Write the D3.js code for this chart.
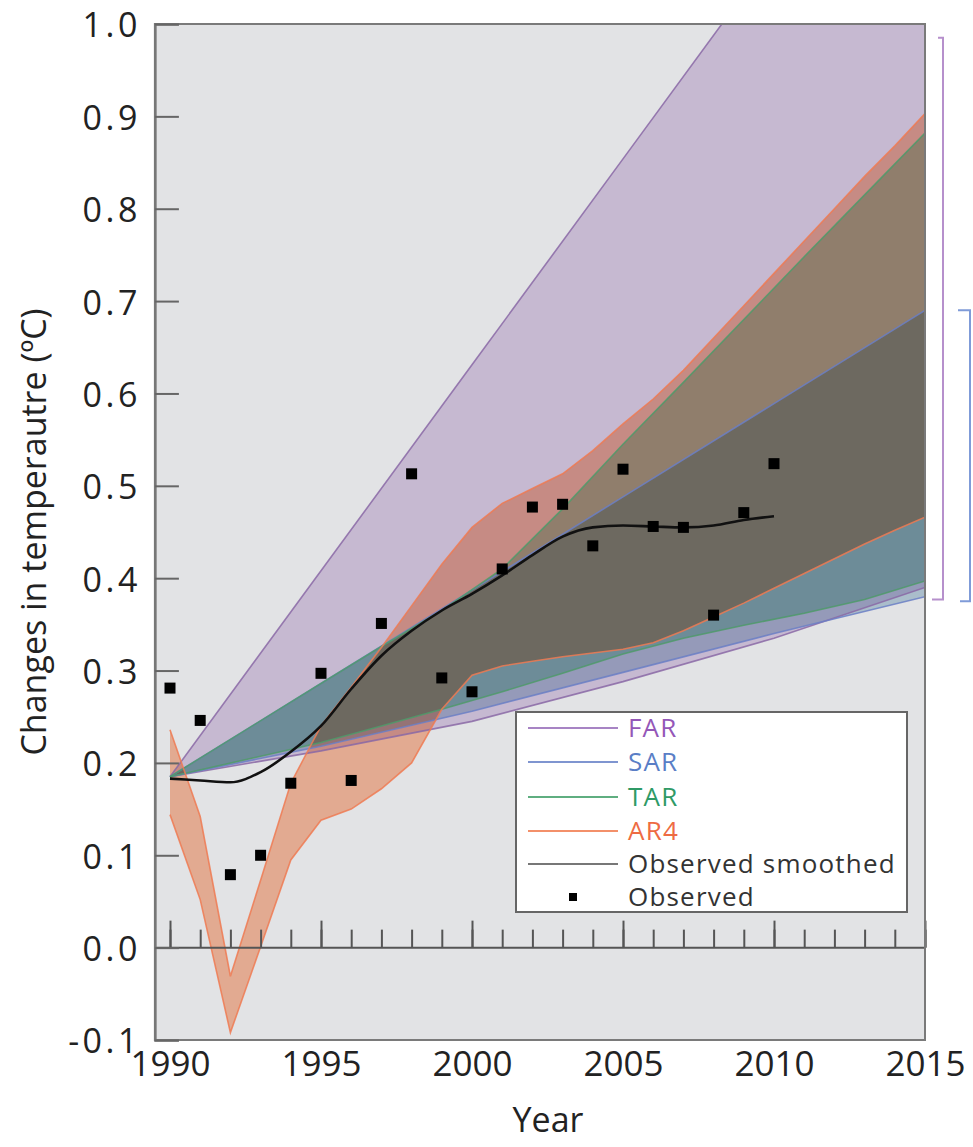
<!DOCTYPE html>
<html><head><meta charset="utf-8">
<script src="https://cdn.jsdelivr.net/npm/d3@7"></script>
<style>
html,body{margin:0;padding:0;background:#fff;}
svg{display:block;font-family:"Open Sans",sans-serif;}
</style></head><body>
<svg id="chart" width="973" height="1147"></svg>
<script>
// Observed annual temperature changes (°C)
const obsYears = d3.range(1990, 2011);
const obsValues = [0.281,0.246,0.079,0.100,0.178,0.297,0.181,0.351,0.513,0.292,0.277,
                   0.410,0.477,0.480,0.435,0.518,0.456,0.455,0.360,0.471,0.524];
const smoothValues = [0.183,0.181,0.179,0.190,0.212,0.240,0.280,0.316,0.343,0.365,0.383,
                      0.403,0.425,0.445,0.455,0.457,0.456,0.455,0.457,0.463,0.467];

// Projection envelopes (low / high)
const farYears = [1990,1995,2000,2005,2010,2015];
const farLow   = [0.185,0.213,0.245,0.288,0.335,0.390];
const farHigh  = [0.185,0.408,0.631,0.854,1.077,1.300];

const sarYears = [1990,1995,2000,2005,2010,2015];
const sarLow   = [0.185,0.218,0.256,0.298,0.340,0.380];
const sarHigh  = [0.185,0.286,0.387,0.488,0.589,0.690];

const tarYears = [1990,1995,1997,1999,2001,2003,2005,2007,2009,2011,2013,2015];
const tarLow   = [0.185,0.222,0.240,0.258,0.277,0.297,0.318,0.335,0.349,0.362,0.377,0.397];
const tarHigh  = [0.185,0.286,0.326,0.365,0.410,0.475,0.545,0.612,0.680,0.748,0.815,0.882];

const ar4Years = d3.range(1990, 2016);
const ar4Low   = [0.144,0.052,-0.092,0.001,0.095,0.138,0.150,0.172,0.200,0.258,0.295,0.305,0.310,
                  0.315,0.319,0.323,0.330,0.343,0.358,0.373,0.389,0.405,0.421,0.437,0.452,0.466];
const ar4High  = [0.236,0.142,-0.031,0.073,0.178,0.240,0.282,0.325,0.370,0.415,0.455,0.481,0.497,
                  0.513,0.538,0.567,0.594,0.625,0.660,0.695,0.730,0.765,0.800,0.835,0.868,0.903];

// Ranges marked at the right of the plot
const farRange = [0.377, 0.985];
const sarRange = [0.375, 0.690];

const yTicks = [-0.1,0.0,0.1,0.2,0.3,0.4,0.5,0.6,0.7,0.8,0.9,1.0];
const xTickLabels = [1990,1995,2000,2005,2010,2015];
const minorYears = d3.range(1990, 2016);

const legendLabels = ["FAR","SAR","TAR","AR4","Observed smoothed","Observed"];

const svg = d3.select("#chart");
const x = d3.scaleLinear().domain([1990, 2015]).range([170, 925]);
const y = d3.scaleLinear().domain([-0.1, 1.0]).range([1040, 24]);
const pLeft = x(1989.5), pRight = x(2015), pTop = y(1.0), pBottom = y(-0.1);

svg.append("clipPath").attr("id", "plotclip").append("rect")
  .attr("x", pLeft).attr("y", pTop).attr("width", pRight - pLeft).attr("height", pBottom - pTop);

const plot = svg.append("g").attr("clip-path", "url(#plotclip)");

// plot background (inside the clipped group so the bands multiply over it)
plot.append("rect").attr("x", pLeft).attr("y", pTop)
  .attr("width", pRight - pLeft).attr("height", pBottom - pTop)
  .attr("fill", "#e2e3e5");

const bands = [
  {years: farYears, low: farLow, high: farHigh, fill: "rgb(224,208,233)", stroke: "#8a68a6"},
  {years: sarYears, low: sarLow, high: sarHigh, fill: "rgb(192,213,226)", stroke: "#6b7fc6"},
  {years: tarYears, low: tarLow, high: tarHigh, fill: "rgb(186,232,209)", stroke: "#4f9a6a"},
  {years: ar4Years, low: ar4Low, high: ar4High, fill: "rgb(255,191,161)", stroke: "#ee7a52"}
];

bands.forEach(b => {
  const rows = b.years.map((yr, i) => ({yr, lo: b.low[i], hi: b.high[i]}));
  const area = d3.area().x(d => x(d.yr)).y0(d => y(d.lo)).y1(d => y(d.hi));
  plot.append("path").datum(rows).attr("d", area)
    .attr("fill", b.fill).style("mix-blend-mode", "multiply");
});
bands.forEach(b => {
  const rows = b.years.map((yr, i) => ({yr, lo: b.low[i], hi: b.high[i]}));
  ["lo", "hi"].forEach(k => {
    plot.append("path").datum(rows)
      .attr("d", d3.line().x(d => x(d.yr)).y(d => y(d[k])))
      .attr("fill", "none").attr("stroke", b.stroke)
      .attr("stroke-width", 1.6).attr("stroke-opacity", 0.85);
  });
});

// zero line with year ticks
plot.append("line").attr("x1", pLeft).attr("x2", pRight)
  .attr("y1", y(0)).attr("y2", y(0)).attr("stroke", "#555").attr("stroke-width", 2);

const minorAxis = d3.axisTop(x).tickValues(minorYears).tickSize(18).tickFormat("");
const majorAxis = d3.axisTop(x).tickValues(xTickLabels).tickSize(27).tickFormat("");
[minorAxis, majorAxis].forEach(ax => {
  const g = svg.append("g").attr("transform", `translate(0,${y(0)})`).call(ax);
  g.select(".domain").remove();
  g.selectAll("line").attr("stroke", "#555").attr("stroke-width", 2);
});

// observed smoothed
plot.append("path").datum(obsYears.map((yr, i) => [yr, smoothValues[i]]))
  .attr("d", d3.line().x(d => x(d[0])).y(d => y(d[1])).curve(d3.curveMonotoneX))
  .attr("fill", "none").attr("stroke", "#111").attr("stroke-width", 2.6);

// observed points
plot.selectAll("rect.obs").data(obsYears.map((yr, i) => [yr, obsValues[i]]))
  .join("rect").attr("class", "obs")
  .attr("x", d => x(d[0]) - 5.5).attr("y", d => y(d[1]) - 5.5)
  .attr("width", 11).attr("height", 11).attr("fill", "#000");

// frame
svg.append("rect").attr("x", pLeft).attr("y", pTop)
  .attr("width", pRight - pLeft).attr("height", pBottom - pTop)
  .attr("fill", "none").attr("stroke", "#7a7a7a").attr("stroke-width", 2);

// y axis
const yAxis = d3.axisLeft(y).tickValues(yTicks).tickSize(-24).tickPadding(14)
  .tickFormat(d => d.toFixed(1));
const yg = svg.append("g").attr("transform", `translate(${pLeft},0)`).call(yAxis);
yg.select(".domain").attr("stroke", "#777").attr("stroke-width", 2.5);
yg.selectAll("line").attr("stroke", "#666").attr("stroke-width", 2);
yg.selectAll("text").attr("font-size", 34).attr("fill", "#222").attr("dy", "0.38em")
  .attr("letter-spacing", 3.5)
  .attr("font-family", "'Open Sans', sans-serif");

// x axis labels
const xAxis = d3.axisBottom(x).tickValues(xTickLabels).tickSize(0).tickPadding(11)
  .tickFormat(d3.format("d"));
const xg = svg.append("g").attr("transform", `translate(0,${pBottom})`).call(xAxis);
xg.select(".domain").remove();
xg.selectAll("text").attr("font-size", 35).attr("fill", "#222")
  .attr("font-family", "'Open Sans', sans-serif");

// axis titles
svg.append("text").attr("x", 548).attr("y", 1132).attr("text-anchor", "middle")
  .attr("font-size", 34).attr("fill", "#222").text("Year");
svg.append("text").attr("transform", "translate(46,532) rotate(-90)")
  .attr("text-anchor", "middle").attr("font-size", 34).attr("fill", "#222")
  .text("Changes in temperautre (ºC)");

// range brackets
function bracket(range, xv, hookTop, hookBottom, color) {
  const p = d3.path();
  p.moveTo(xv - hookTop, y(range[1]));
  p.lineTo(xv, y(range[1]));
  p.lineTo(xv, y(range[0]));
  p.lineTo(xv - hookBottom, y(range[0]));
  svg.append("path").attr("d", p.toString()).attr("fill", "none")
    .attr("stroke", color).attr("stroke-width", 2);
}
bracket(farRange, 943, 5, 11, "#b690cc");
bracket(sarRange, 970, 12, 10, "#7f9bd8");

// legend
const legendColors = ["#a784c4","#7f95d0","#5fae80","#f3906a","#777","#000"];
const legendText = ["#9457b8","#5a7ec6","#2f9a66","#ee6b43","#333","#333"];
const rowY = [728, 762, 797, 831, 864, 897];
const lg = svg.append("g");
lg.append("rect").attr("x", 516).attr("y", 712).attr("width", 391).attr("height", 200)
  .attr("fill", "#fff").attr("stroke", "#666").attr("stroke-width", 2);
legendLabels.forEach((lab, i) => {
  if (i < 5) {
    lg.append("line").attr("x1", 528).attr("x2", 618).attr("y1", rowY[i]).attr("y2", rowY[i])
      .attr("stroke", legendColors[i]).attr("stroke-width", 2);
  } else {
    lg.append("rect").attr("x", 569).attr("y", rowY[i] - 4).attr("width", 8).attr("height", 8)
      .attr("fill", "#000");
  }
  lg.append("text").attr("x", 628).attr("y", rowY[i]).attr("dy", "0.36em")
    .attr("font-size", 26).attr("letter-spacing", 1.2)
    .attr("fill", legendText[i]).text(lab);
});
</script>
</body></html>
